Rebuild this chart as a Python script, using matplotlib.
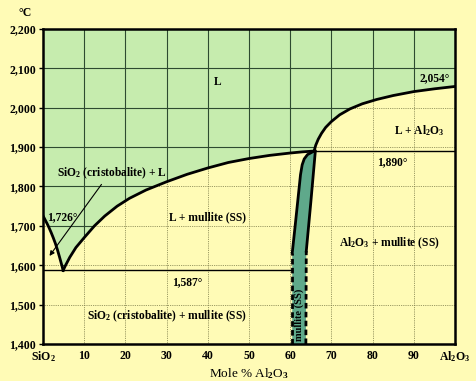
import matplotlib
matplotlib.use("Agg")
from matplotlib import pyplot as plt
from matplotlib.patches import Polygon

plt.rcParams['font.family'] = ['Liberation Serif', 'DejaVu Serif']
plt.rcParams['font.weight'] = 'bold'
plt.rcParams['mathtext.fontset'] = 'custom'
plt.rcParams['mathtext.rm'] = 'Liberation Serif:bold'
plt.rcParams['mathtext.it'] = 'Liberation Serif:bold'
plt.rcParams['mathtext.bf'] = 'Liberation Serif:bold'

# liquidus on the silica side (SiO2 melting point down to the eutectic)
left_liq_x = [0, 0.5, 1, 1.5, 2, 2.5, 3, 3.5, 4, 4.5, 4.9]
left_liq_t = [1726, 1716, 1706, 1695, 1683, 1670, 1656, 1640, 1622, 1603, 1587]
# liquidus from the eutectic up to the incongruent point
mid_liq_x = [4.9, 5.5, 6.5, 8, 10, 12.5, 15, 18, 21, 25, 30, 35, 40, 45, 50, 55, 60, 63, 65.8]
mid_liq_t = [1587, 1600, 1620, 1645, 1670, 1700, 1725, 1750, 1770, 1791, 1812, 1831, 1847, 1861, 1871, 1879, 1885, 1888, 1890]
# liquidus on the alumina side
right_liq_x = [65.8, 66.2, 66.8, 67.6, 68.6, 70, 72, 74.5, 77.5, 81, 85, 90, 95, 100]
right_liq_t = [1890, 1905, 1920, 1935, 1950, 1965, 1982, 1997, 2010, 2021, 2031, 2041, 2048, 2054]

# mullite solid solution band
mull_left_dash_x = [60.5, 60.5]
mull_left_dash_t = [1400, 1632]
mull_left_x = [60.5, 61.2, 61.9, 62.5, 62.9, 63.4, 64.2, 65.8]
mull_left_t = [1632, 1700, 1770, 1830, 1855, 1870, 1881, 1890]
mull_right_dash_x = [63.8, 63.9]
mull_right_dash_t = [1400, 1636]
mull_right_x = [63.9, 65.0, 66.1]
mull_right_t = [1636, 1760, 1890]

eutectic_t = 1587
peritectic_t = 1890

xticks = list(range(0, 101, 10))
xticklabels = ['SiO$_2$'] + [str(v) for v in range(10, 100, 10)] + ['Al$_2$O$_3$']
yticks = list(range(1400, 2201, 100))
yticklabels = ['{:,}'.format(v) for v in yticks]

bg = '#fffbb6'
green = '#c6ecae'
teal = '#5fa98b'

fig = plt.figure(figsize=(4.77, 3.81), dpi=100, facecolor=bg)
ax = fig.add_axes([0.090, 0.097, 0.864, 0.827])
ax.set_facecolor(bg)
ax.set_xlim(0, 100)
ax.set_ylim(1400, 2200)

# liquid region
liq_pts = [(0, 2200), (100, 2200)]
liq_pts += list(zip(right_liq_x[::-1], right_liq_t[::-1]))
liq_pts += list(zip(mid_liq_x[::-1], mid_liq_t[::-1]))
liq_pts += list(zip(left_liq_x[::-1], left_liq_t[::-1]))
liq_poly = Polygon(liq_pts, closed=True, facecolor=green, edgecolor='none', zorder=0)
ax.add_patch(liq_poly)

# mullite band
band = list(zip(mull_left_dash_x, mull_left_dash_t)) + list(zip(mull_left_x, mull_left_t))
band += list(zip(mull_right_x[::-1], mull_right_t[::-1])) + list(zip(mull_right_dash_x[::-1], mull_right_dash_t[::-1]))
ax.add_patch(Polygon(band, closed=True, facecolor=teal, edgecolor='none', zorder=2))

# grid: dotted everywhere, solid dark inside the liquid field
for xv in xticks[1:-1]:
    ax.axvline(xv, color='#7a7a48', lw=0.6, ls=(0, (1, 1.2)), zorder=1)
    g = ax.axvline(xv, color='#2e4a30', lw=0.8, zorder=1)
    g.set_clip_path(liq_poly)
for tv in yticks[1:-1]:
    ax.axhline(tv, color='#7a7a48', lw=0.6, ls=(0, (1, 1.2)), zorder=1)
    g = ax.axhline(tv, color='#2e4a30', lw=0.8, zorder=1)
    g.set_clip_path(liq_poly)

# phase boundaries
ax.plot(left_liq_x, left_liq_t, color='black', lw=2.0, zorder=3)
ax.plot(mid_liq_x, mid_liq_t, color='black', lw=2.0, zorder=3)
ax.plot(right_liq_x, right_liq_t, color='black', lw=2.0, zorder=3)
ax.plot([0, mull_left_dash_x[0]], [eutectic_t, eutectic_t], color='black', lw=1.0, zorder=3)
ax.plot([mull_right_x[-1], 100], [peritectic_t, peritectic_t], color='black', lw=1.0, zorder=3)
ax.plot(mull_left_x, mull_left_t, color='black', lw=2.0, zorder=3)
ax.plot(mull_right_x, mull_right_t, color='black', lw=2.0, zorder=3)
ax.plot(mull_left_dash_x, mull_left_dash_t, color='black', lw=2.0, ls=(0, (2, 1.2)), zorder=3)
ax.plot(mull_right_dash_x, mull_right_dash_t, color='black', lw=2.0, ls=(0, (2, 1.2)), zorder=3)

# labels
fs = 8.3
ax.text(42.5, 2065, 'L', fontsize=fs, ha='center', va='center')
ax.text(98.8, 2076, '2,054°', fontsize=fs, ha='right', va='center')
ax.text(91.3, 1942, 'L + Al$_2$O$_3$', fontsize=fs, ha='center', va='center')
ax.text(84.7, 1863, '1,890°', fontsize=fs, ha='center', va='center')
ax.text(16.7, 1834, 'SiO$_2$ (cristobalite) + L', fontsize=fs, ha='center', va='center')
ax.text(1.0, 1722, '1,726°', fontsize=fs, ha='left', va='center')
ax.text(40, 1722, 'L + mullite (SS)', fontsize=fs, ha='center', va='center')
ax.text(84, 1656, 'Al$_2$O$_3$ + mullite (SS)', fontsize=fs, ha='center', va='center')
ax.text(35, 1556, '1,587°', fontsize=fs, ha='center', va='center')
ax.text(30.2, 1471, 'SiO$_2$ (cristobalite) + mullite (SS)', fontsize=fs, ha='center', va='center')
ax.text(62.2, 1474, 'mullite (SS)', fontsize=7.5, ha='center', va='center', rotation=90, zorder=4)
ax.annotate('', xy=(1.2, 1618), xytext=(14.6, 1811),
            arrowprops=dict(arrowstyle='-|>', color='black', lw=0.8, mutation_scale=7), zorder=4)

ax.set_xticks(xticks)
ax.set_xticklabels(xticklabels, fontsize=8.5)
ax.set_yticks(yticks)
ax.set_yticklabels(yticklabels, fontsize=8.5)
ax.tick_params(axis='x', length=0, pad=4)
ax.tick_params(axis='y', length=3, width=1, direction='out', pad=2)
for s in ax.spines.values():
    s.set_linewidth(1.8)
    s.set_zorder(5)

ax.set_xlabel('Mole % Al$_2$O$_3$', fontsize=9.5, labelpad=1)
fig.text(25 / 477, 1 - 13 / 381, '°C', fontsize=8.5, ha='center', va='center')

fig.savefig('out.png', dpi=100, facecolor=bg)
